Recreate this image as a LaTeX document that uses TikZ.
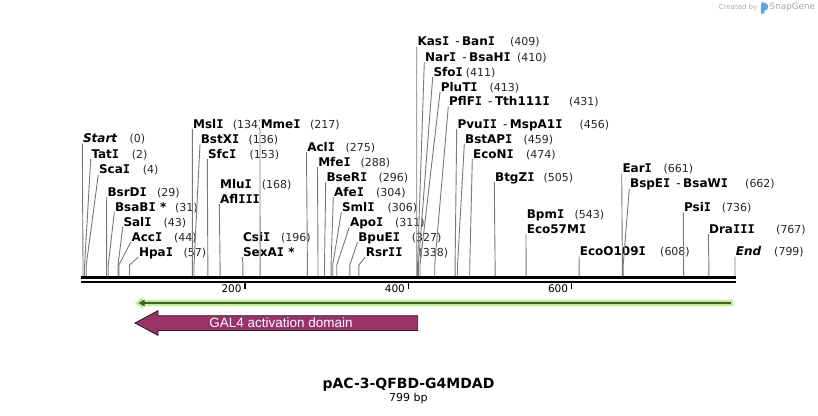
\documentclass[tikz,border=0pt]{standalone}
\usepackage{fontspec}
\setmainfont{DejaVu Sans}
\newfontfamily\arialf{Liberation Sans}
\newfontfamily\monof{DejaVu Sans Mono}
\definecolor{siteg}{RGB}{120,120,120}
\definecolor{glight}{RGB}{186,242,140}
\definecolor{gdark}{RGB}{72,90,56}
\definecolor{featpurple}{RGB}{153,51,102}
\definecolor{featedge}{RGB}{50,28,40}
\definecolor{sgrey}{RGB}{170,170,170}
\definecolor{logoblue}{RGB}{95,165,225}
\newcommand\sI{{\monof\bfseries I}}
\newcommand\enzline[5]{%
  \pgfmathsetmacro\sx{83+0.816*#5}%
  \coordinate (k-#1) at (\sx,265);%
  \coordinate (s-#1) at (\sx,276);%
  \node[ename] (n-#1) at (#3,#4) {#2};%
  \draw[siteline] (n-#1.south west) -- (k-#1) -- (s-#1);}
\newcommand\enzplain[4]{\node[ename] (n-#1) at (#2,#3) {#4};}
\newcommand\enznum[4]{\node[enumb] (m-#1) at (#2,#3) {#4};}
\newcommand\dsh{\hspace{6pt}{\mdseries-}\hspace{2.5pt}}
\begin{document}
\begin{tikzpicture}[x=1pt,y=-1pt,
  ename/.style={anchor=west,inner sep=0.6pt,fill=white,text height=8.8pt,text depth=0pt,
    font=\fontsize{12}{12}\selectfont\bfseries},
  enumb/.style={anchor=west,inner sep=0pt,text height=8.8pt,text depth=0pt,text=black!85,
    font=\fontsize{11}{11}\selectfont},
  siteline/.style={draw=siteg,line width=0.9pt},
  ticklab/.style={anchor=east,inner sep=0pt,font=\fontsize{10.5}{10.5}\selectfont}]
\useasboundingbox (0,0) rectangle (818,415);

% backbone
\coordinate (bbL) at (81,277.3);
\coordinate (bbR) at (736,277.3);
\coordinate (bbL2) at (81,281.8);
\coordinate (bbR2) at (736,281.8);
\draw[line width=3.5pt] (bbL) -- (bbR);
\draw[line width=2pt] (bbL2) -- (bbR2);

% ticks
\foreach \v/\xx in {200/245.0,400/408.3,600/571.5}{
  \coordinate (t\v a) at (\xx,281.8);
  \coordinate (t\v b) at (\xx,288.5);
  \draw[line width=1.3pt] (t\v a) -- (t\v b);
  \node[ticklab] (tl\v) at (\xx-3.2,288.3) {\v};
}

% enzymes
\enzline{start}{\textit{Start}}{82.3}{138.5}{0}
\enznum{start}{129.3}{138.5}{(0)}
\enzline{tati}{Tat\sI}{90.7}{154}{2}
\enznum{tati}{131.7}{154}{(2)}
\enzline{scai}{Sca\sI}{98.3}{169.5}{4}
\enznum{scai}{142.7}{169.5}{(4)}
\enzline{bsrdi}{BsrD\sI}{106.7}{192}{29}
\enznum{bsrdi}{157}{192}{(29)}
\enzline{bsabi}{BsaB\sI\ *}{114.3}{207}{31}
\enznum{bsabi}{175}{207}{(31)}
\enzline{sali}{Sal\sI}{122.7}{222}{43}
\enznum{sali}{163.3}{222}{(43)}
\enzline{acci}{Acc\sI}{130.7}{237}{44}
\enznum{acci}{174}{237}{(44)}
\enzline{hpai}{Hpa\sI}{138.3}{252}{57}
\enznum{hpai}{183.3}{252}{(57)}
\enzline{msli}{Msl\sI}{192.3}{124}{134}
\enznum{msli}{232.7}{124}{(134)}
\enzline{bstxi}{BstX\sI}{200}{139}{136}
\enznum{bstxi}{248.3}{139}{(136)}
\enzline{sfci}{Sfc\sI}{207.3}{154}{153}
\enznum{sfci}{249.3}{154}{(153)}
\enzplain{mlui}{219.3}{184}{Mlu\sI}
\enznum{mlui}{261.7}{184}{(168)}
\enzline{afliii}{Afl\sI\sI\sI}{219.3}{199}{168}
\enzplain{csii}{242.3}{237}{Csi\sI}
\enznum{csii}{281}{237}{(196)}
\enzline{sexai}{SexA\sI\ *}{242.3}{252}{196}
\enzline{mmei}{Mme\sI}{260}{124}{217}
\enznum{mmei}{310}{124}{(217)}
\enzline{acli}{Acl\sI}{306.5}{147}{275}
\enznum{acli}{345.5}{147}{(275)}
\enzline{mfei}{Mfe\sI}{317.5}{162}{288}
\enznum{mfei}{360.3}{162}{(288)}
\enzline{bseri}{BseR\sI}{325.7}{177}{296}
\enznum{bseri}{378.3}{177}{(296)}
\enzline{afei}{Afe\sI}{333.3}{192}{304}
\enznum{afei}{376}{192}{(304)}
\enzline{smli}{Sml\sI}{341.3}{207}{306}
\enznum{smli}{387.3}{207}{(306)}
\enzline{apoi}{Apo\sI}{349.3}{222}{311}
\enznum{apoi}{395}{222}{(311)}
\enzline{bpuei}{BpuE\sI}{357.5}{237}{327}
\enznum{bpuei}{411.7}{237}{(327)}
\enzline{rsrii}{Rsr\sI\sI}{365}{252}{338}
\enznum{rsrii}{418.3}{252}{(338)}
\enzline{kasi}{Kas\sI\dsh Ban\sI}{416.7}{41.5}{409}
\enznum{kasi}{510}{41.5}{(409)}
\enzline{nari}{Nar\sI\dsh BsaH\sI}{424.3}{57}{410}
\enznum{nari}{517}{57}{(410)}
\enzline{sfoi}{Sfo\sI}{432.7}{72}{411}
\enznum{sfoi}{465.7}{72}{(411)}
\enzline{pluti}{PluT\sI}{440}{87}{413}
\enznum{pluti}{489.3}{87}{(413)}
\enzline{pflfi}{PflF\sI\dsh Tth111\sI}{448.3}{101.5}{431}
\enznum{pflfi}{569}{101.5}{(431)}
\enzline{pvuii}{Pvu\sI\sI\dsh MspA1\sI}{456.7}{124}{456}
\enznum{pvuii}{579.3}{124}{(456)}
\enzline{bstapi}{BstAP\sI}{464.3}{139}{459}
\enznum{bstapi}{523.3}{139}{(459)}
\enzline{econi}{EcoN\sI}{472.3}{154}{474}
\enznum{econi}{526}{154}{(474)}
\enzline{btgzi}{BtgZ\sI}{494.3}{177}{505}
\enznum{btgzi}{543.3}{177}{(505)}
\enzplain{bpmi}{526}{214}{Bpm\sI}
\enznum{bpmi}{574.3}{214}{(543)}
\enzline{eco57mi}{Eco57M\sI}{526}{229}{543}
\enzline{ecoo109i}{EcoO109\sI}{579}{251.5}{608}
\enznum{ecoo109i}{660}{251.5}{(608)}
\enzline{eari}{Ear\sI}{621.7}{168.5}{661}
\enznum{eari}{663.3}{168.5}{(661)}
\enzline{bspei}{BspE\sI\dsh BsaW\sI}{629.3}{183.5}{662}
\enznum{bspei}{745}{183.5}{(662)}
\enzline{psii}{Psi\sI}{683.3}{207.5}{736}
\enznum{psii}{721.7}{207.5}{(736)}
\enzline{draiii}{Dra\sI\sI\sI}{708.3}{229}{767}
\enznum{draiii}{776}{229}{(767)}
\enzline{end}{\textit{End}}{735}{251.5}{799}
\enznum{end}{774}{251.5}{(799)}

% green feature (thin arrow)
\fill[glight] (135,303) -- (143,297) -- (143,300) -- (733,300) -- (733,306) -- (143,306) -- (143,309) -- cycle;
\draw[gdark,line width=2.6pt] (143,303) -- (731,303);
\fill[gdark] (138.5,303) -- (144.5,299.5) -- (144.5,306.5) -- cycle;

% GAL4 activation domain arrow
\draw[fill=featpurple,draw=featedge,line width=0.9pt]
  (135,323) -- (158,310.7) -- (158,315.7) -- (417.7,315.7) -- (417.7,330.5) -- (158,330.5) -- (158,335.3) -- cycle;
\node[text=white,inner sep=0pt,font=\arialf\fontsize{13.5}{13.5}\selectfont] (gal4) at (281,322.5) {GAL4 activation domain};

% title
\node[inner sep=0pt,font=\fontsize{14}{14}\selectfont\bfseries] (title) at (408.5,384.5) {pAC-3-QFBD-G4MDAD};
\node[inner sep=0pt,font=\fontsize{11}{11}\selectfont] (bp) at (408.3,398.5) {799 bp};

% watermark
\node[anchor=east,inner sep=0pt,text=sgrey,font=\fontsize{7}{7}\selectfont] (cby) at (757.5,7.5) {Created by};
\fill[logoblue] (761,13.5) -- (761,4) .. controls (761,2) and (763,1.5) .. (765,2.8) -- (767.5,4.5) .. controls (768.5,5.5) and (768.5,8) .. (767.5,9) -- (764.3,11) -- (764.3,13.5) -- cycle;
\node[anchor=west,inner sep=0pt,text=sgrey,font=\fontsize{8.8}{8.8}\selectfont] (sg) at (769.5,7.5) {SnapGene};
\end{tikzpicture}
\end{document}
